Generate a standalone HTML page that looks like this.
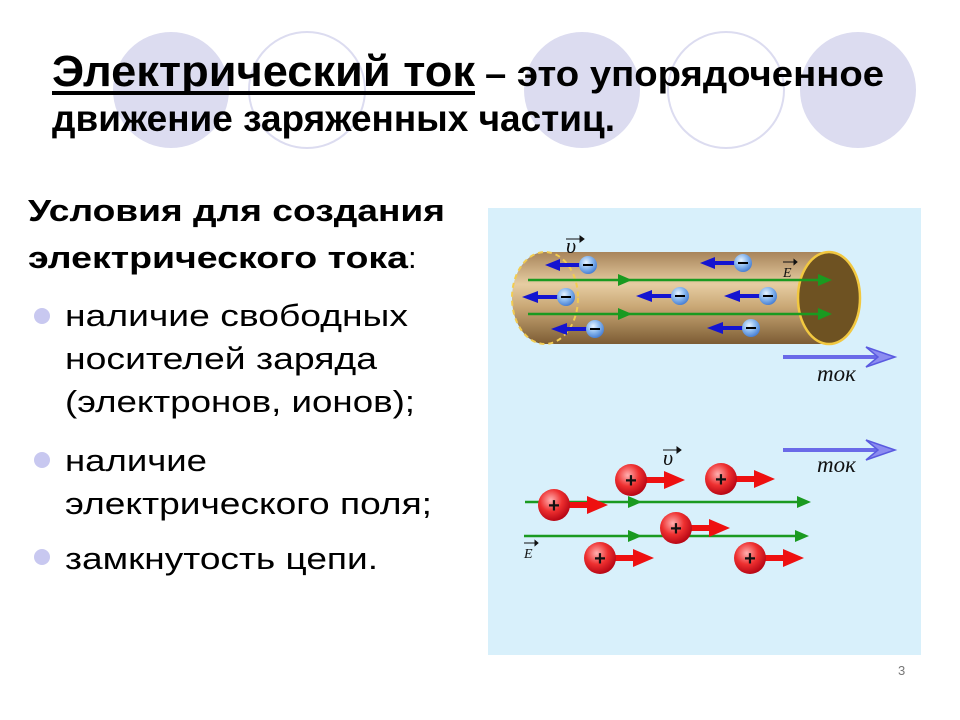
<!DOCTYPE html>
<html><head><meta charset="utf-8"><style>
html,body{margin:0;padding:0;background:#fff;}
svg{display:block;}
</style></head><body>
<svg width="960" height="720" viewBox="0 0 960 720" xmlns="http://www.w3.org/2000/svg">
<defs>
<linearGradient id="body" x1="0" y1="0" x2="0" y2="1">
<stop offset="0" stop-color="#a8845a"/><stop offset="0.35" stop-color="#e6cda2"/><stop offset="0.6" stop-color="#c9a775"/><stop offset="1" stop-color="#7c5c34"/>
</linearGradient>
<radialGradient id="el" cx="0.4" cy="0.35" r="0.7">
<stop offset="0" stop-color="#e8f4ff"/><stop offset="0.5" stop-color="#8ab8ee"/><stop offset="1" stop-color="#3f78d0"/>
</radialGradient>
<radialGradient id="pr" cx="0.4" cy="0.35" r="0.7">
<stop offset="0" stop-color="#ffb0b0"/><stop offset="0.5" stop-color="#ee3030"/><stop offset="1" stop-color="#b00010"/>
</radialGradient>
</defs>
<circle cx="171" cy="90" r="58" fill="#dcdcf0"/>
<circle cx="307" cy="90" r="58" fill="none" stroke="#dcdcf0" stroke-width="2"/>
<circle cx="582" cy="90" r="58" fill="#dcdcf0"/>
<circle cx="726" cy="90" r="58" fill="none" stroke="#dcdcf0" stroke-width="2"/>
<circle cx="858" cy="90" r="58" fill="#dcdcf0"/>
<g font-family="Liberation Sans, sans-serif" font-weight="bold" fill="#000">
<text x="52" y="86" font-size="44" textLength="423" lengthAdjust="spacingAndGlyphs">Электрический ток</text>
<rect x="52" y="91" width="423" height="4"/>
<text x="485" y="86" font-size="36" textLength="399" lengthAdjust="spacingAndGlyphs">– это упорядоченное</text>
<text x="52" y="131" font-size="37" textLength="563" lengthAdjust="spacingAndGlyphs">движение заряженных частиц.</text>
<text x="28" y="221" font-size="31" textLength="417" lengthAdjust="spacingAndGlyphs">Условия для создания</text>
<text x="28" y="268" font-size="31" textLength="380" lengthAdjust="spacingAndGlyphs">электрического тока</text>
</g>
<g font-family="Liberation Sans, sans-serif" fill="#000" font-size="31">
<text x="408" y="268" font-size="31">:</text>
<text x="65" y="326" textLength="343" lengthAdjust="spacingAndGlyphs">наличие свободных</text>
<text x="65" y="369" textLength="312" lengthAdjust="spacingAndGlyphs">носителей заряда</text>
<text x="65" y="412" textLength="350" lengthAdjust="spacingAndGlyphs">(электронов, ионов);</text>
<text x="65" y="471" textLength="142" lengthAdjust="spacingAndGlyphs">наличие</text>
<text x="65" y="514" textLength="367" lengthAdjust="spacingAndGlyphs">электрического поля;</text>
<text x="65" y="569" textLength="313" lengthAdjust="spacingAndGlyphs">замкнутость цепи.</text>
</g>
<circle cx="42" cy="316" r="8" fill="#c8c8f0"/>
<circle cx="42" cy="460" r="8" fill="#c8c8f0"/>
<circle cx="42" cy="557" r="8" fill="#c8c8f0"/>
<rect x="488" y="208" width="433" height="447" fill="#d8f0fb"/>
<path d="M545 252 L829 252 L829 344 L545 344 A33 46 0 0 1 545 252 Z" fill="url(#body)"/>
<ellipse cx="545" cy="298" rx="33" ry="46" fill="none" stroke="#f2cc50" stroke-width="2" stroke-dasharray="5 4"/>
<ellipse cx="829" cy="298" rx="31" ry="46" fill="#6e5222" stroke="#f2c840" stroke-width="2.5"/>
<g stroke="#1a9a20" stroke-width="2.5" fill="#1a9a20">
<line x1="528" y1="280" x2="826" y2="280"/><line x1="528" y1="314" x2="826" y2="314"/>
<path d="M618 274 L632 280 L618 286Z" stroke="none"/><path d="M818 274 L832 280 L818 286Z" stroke="none"/>
<path d="M618 308 L632 314 L618 320Z" stroke="none"/><path d="M818 308 L832 314 L818 320Z" stroke="none"/>
</g>
<g stroke="#1414d0" stroke-width="4" fill="#1414d0">
<line x1="580" y1="265" x2="558" y2="265"/><path d="M545 265 L560 259 L560 271Z" stroke="none"/>
<line x1="735" y1="263" x2="713" y2="263"/><path d="M700 263 L715 257 L715 269Z" stroke="none"/>
<line x1="558" y1="297" x2="536" y2="297"/><path d="M522 297 L538 291 L538 303Z" stroke="none"/>
<line x1="672" y1="296" x2="650" y2="296"/><path d="M636 296 L652 290 L652 302Z" stroke="none"/>
<line x1="760" y1="296" x2="738" y2="296"/><path d="M724 296 L740 290 L740 302Z" stroke="none"/>
<line x1="587" y1="329" x2="565" y2="329"/><path d="M551 329 L567 323 L567 335Z" stroke="none"/>
<line x1="743" y1="328" x2="721" y2="328"/><path d="M707 328 L723 322 L723 334Z" stroke="none"/>
</g>
<g fill="url(#el)">
<circle cx="588" cy="265" r="9"/><circle cx="743" cy="263" r="9"/><circle cx="566" cy="297" r="9"/>
<circle cx="680" cy="296" r="9"/><circle cx="768" cy="296" r="9"/><circle cx="595" cy="329" r="9"/><circle cx="751" cy="328" r="9"/>
</g>
<g stroke="#000" stroke-width="2">
<line x1="583" y1="265" x2="593" y2="265"/><line x1="738" y1="263" x2="748" y2="263"/><line x1="561" y1="297" x2="571" y2="297"/>
<line x1="675" y1="296" x2="685" y2="296"/><line x1="763" y1="296" x2="773" y2="296"/><line x1="590" y1="329" x2="600" y2="329"/><line x1="746" y1="328" x2="756" y2="328"/>
</g>
<g font-family="Liberation Serif, serif" font-style="italic" fill="#111">
<text x="566" y="253" font-size="22">υ</text>
<text x="783" y="277" font-size="14">E</text>
<text x="663" y="465" font-size="22">υ</text>
<text x="524" y="558" font-size="14">E</text>
<text x="817" y="381" font-size="23">ток</text>
<text x="817" y="472" font-size="23">ток</text>
</g>
<g stroke="#111" stroke-width="1" fill="#111">
<line x1="566" y1="239" x2="580" y2="239"/><path d="M580 236 L584 239 L580 242Z"/>
<line x1="783" y1="262" x2="794" y2="262"/><path d="M794 259.5 L797 262 L794 264.5Z"/>
<line x1="663" y1="450" x2="677" y2="450"/><path d="M677 447 L681 450 L677 453Z"/>
<line x1="524" y1="543" x2="535" y2="543"/><path d="M535 540.5 L538 543 L535 545.5Z"/>
</g>
<g fill="none" stroke="#6a6ae8">
<line x1="783" y1="357" x2="890" y2="357" stroke-width="4"/>
<path d="M866 347 L895 357 L866 367 L878 357Z" fill="#8c8cf0" stroke="#5a5ae0" stroke-width="1.5"/>
<line x1="783" y1="450" x2="890" y2="450" stroke-width="4"/>
<path d="M866 440 L895 450 L866 460 L878 450Z" fill="#8c8cf0" stroke="#5a5ae0" stroke-width="1.5"/>
</g>
<g stroke="#1a9a20" stroke-width="2.5" fill="#1a9a20">
<line x1="525" y1="502" x2="804" y2="502"/><line x1="524" y1="536" x2="802" y2="536"/>
<path d="M628 496 L642 502 L628 508Z" stroke="none"/><path d="M797 496 L811 502 L797 508Z" stroke="none"/>
<path d="M628 530 L642 536 L628 542Z" stroke="none"/><path d="M795 530 L809 536 L795 542Z" stroke="none"/>
</g>
<g fill="#ee1010">
<rect x="645" y="477" width="22" height="6"/><path d="M664 471 L685 480 L664 489Z"/>
<rect x="735" y="476" width="22" height="6"/><path d="M754 470 L775 479 L754 488Z"/>
<rect x="568" y="502" width="22" height="6"/><path d="M587 496 L608 505 L587 514Z"/>
<rect x="690" y="525" width="22" height="6"/><path d="M709 519 L730 528 L709 537Z"/>
<rect x="614" y="555" width="22" height="6"/><path d="M633 549 L654 558 L633 567Z"/>
<rect x="764" y="555" width="22" height="6"/><path d="M783 549 L804 558 L783 567Z"/>
</g>
<g fill="url(#pr)">
<circle cx="631" cy="480" r="16"/><circle cx="721" cy="479" r="16"/><circle cx="554" cy="505" r="16"/>
<circle cx="676" cy="528" r="16"/><circle cx="600" cy="558" r="16"/><circle cx="750" cy="558" r="16"/>
</g>
<g font-family="Liberation Sans, sans-serif" font-weight="bold" font-size="20" fill="#111" text-anchor="middle">
<text x="631" y="487">+</text><text x="721" y="486">+</text><text x="554" y="512">+</text>
<text x="676" y="535">+</text><text x="600" y="565">+</text><text x="750" y="565">+</text>
</g>
<text x="898" y="675" font-family="Liberation Sans, sans-serif" font-size="13" fill="#777">3</text>
</svg>
</body></html>
